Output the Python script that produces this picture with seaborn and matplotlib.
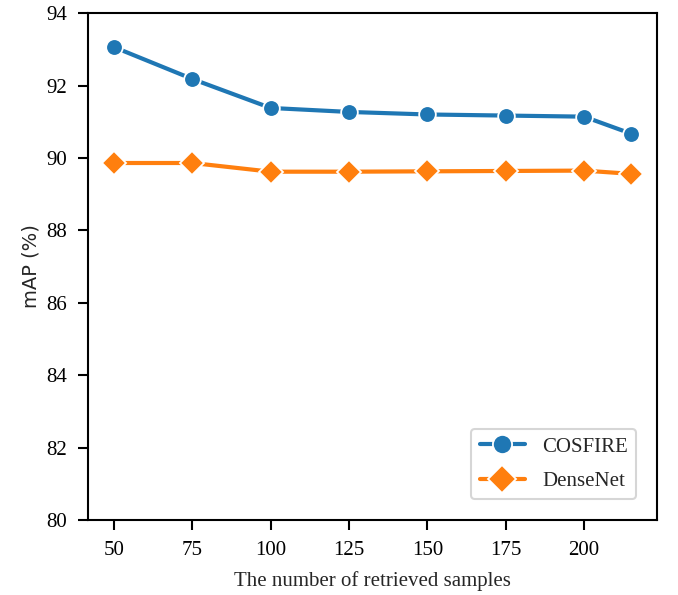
import matplotlib
matplotlib.use("Agg")
import matplotlib.pyplot as plt
import pandas as pd
import seaborn as sns

# number of retrieved samples
samples = [50, 75, 100, 125, 150, 175, 200, 215]
cosfire_map = [93.06, 92.18, 91.38, 91.27, 91.20, 91.17, 91.14, 90.67]
densenet_map = [89.86, 89.86, 89.62, 89.62, 89.63, 89.64, 89.65, 89.56]
methods = ["COSFIRE", "DenseNet"]

df = pd.DataFrame({
    "samples": samples * 2,
    "mAP": cosfire_map + densenet_map,
    "method": [methods[0]] * len(samples) + [methods[1]] * len(samples),
})

sns.set_style("ticks")
plt.rcParams["font.family"] = ["Liberation Serif", "DejaVu Serif"]

fig = plt.figure(figsize=(6.78, 5.95), dpi=100)
ax = fig.add_axes([0.130, 0.126, 0.839, 0.852])

sns.lineplot(data=df, x="samples", y="mAP", hue="method", style="method",
             markers={"COSFIRE": "o", "DenseNet": "D"}, dashes=False,
             markersize=12, markeredgecolor="white", markeredgewidth=1.3,
             linewidth=3, palette=["#1f77b4", "#ff7f0e"], ax=ax)

ax.set_ylim(80, 94)
ax.set_yticks([80, 82, 84, 86, 88, 90, 92, 94])
ax.set_xticks([50, 75, 100, 125, 150, 175, 200])
ax.tick_params(labelsize=15, width=1.5, length=7, pad=8, colors="black")
for sp in ax.spines.values():
    sp.set_color("black")
    sp.set_linewidth(1.5)

ax.set_xlabel("The number of retrieved samples", fontsize=15, labelpad=8)
ax.set_ylabel("mAP (%)", fontsize=14, family=["DejaVu Sans"])

leg = ax.legend(loc="lower right", fontsize=15, frameon=True, fancybox=True,
                borderaxespad=1.0, handlelength=2.2, labelspacing=0.7,
                markerscale=1.15)
leg.get_frame().set_edgecolor("#cccccc")
leg.get_frame().set_linewidth(1.5)

fig.savefig("out.png", dpi=100)
